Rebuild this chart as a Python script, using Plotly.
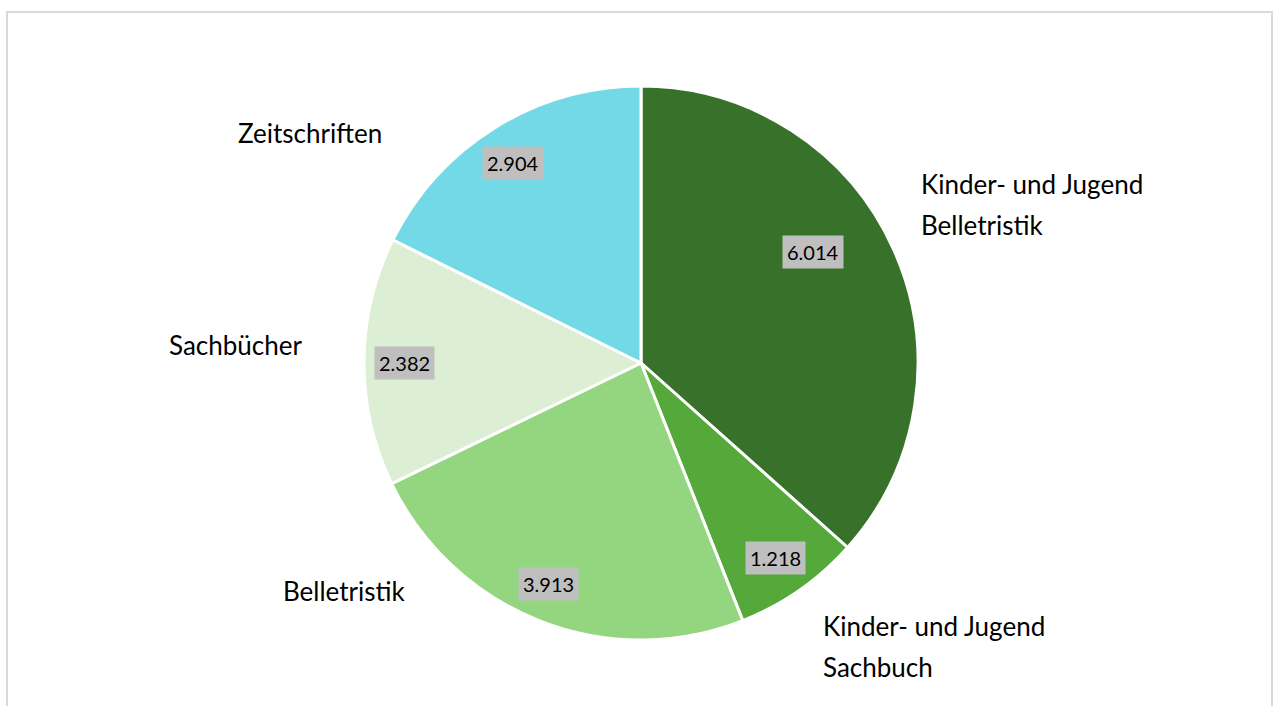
import math
import textwrap
import plotly.graph_objects as go

# ---- data ----
categories = ["Kinder- und Jugend Belletristik", "Kinder- und Jugend Sachbuch",
              "Belletristik", "Sachbücher", "Zeitschriften"]
values = [6.014, 1.218, 3.913, 2.382, 2.904]
value_labels = ["6.014", "1.218", "3.913", "2.382", "2.904"]

# ---- styles / layout ----
colors = ["#38722A", "#55A83A", "#94D57F", "#DCEFD5", "#74D9E6"]
W, H = 1276, 706
ml, mr, mt, mb = 6, 0, 86, 66
pw, ph = W - ml - mr, H - mt - mb
R = min(pw, ph) / 2
cx, cy = ml + pw / 2, mt + ph / 2

# label placement tweaks (angle shift in degrees, radius factor)
val_shift = [-8.6, 0.3, 1.4, -0.3, -0.8]
val_rad = [0.74, 0.856, 0.866, 0.852, 0.857]
lab_shift = [-5.6, 2.4, 24.2, 2.8, -16.4]
lab_rad = [1.155, 1.212, 1.177, 1.218, 1.245]
FONT = "Lato"


def to_paper(px, py):
    return (px - ml) / pw, 1 - (py - mt) / ph


total = sum(values)
mids = []
cum = 0
for v in values:
    mids.append((cum + v / 2) / total * 360)
    cum += v

fig = go.Figure(go.Pie(
    labels=categories, values=values, sort=False, direction="clockwise",
    rotation=0, textinfo="none", hoverinfo="label+value",
    marker=dict(colors=colors, line=dict(color="white", width=3)),
    showlegend=False,
))

annotations = []
for i, cat in enumerate(categories):
    # value label inside slice
    a = math.radians(mids[i] + val_shift[i])
    r = val_rad[i] * R
    x, y = to_paper(cx + r * math.sin(a), cy - r * math.cos(a))
    annotations.append(dict(
        x=x, y=y, xref="paper", yref="paper", text=value_labels[i],
        showarrow=False, xanchor="center", yanchor="middle",
        font=dict(family=FONT, size=20, color="#000000"),
        bgcolor="#BFBFBF", borderpad=4,
    ))
    # category label outside
    a = math.radians(mids[i] + lab_shift[i])
    r = lab_rad[i] * R
    px = cx + r * math.sin(a)
    py = cy - r * math.cos(a)
    x, y = to_paper(px, py)
    lines = textwrap.wrap(cat, 18, break_on_hyphens=False)
    n = len(lines)
    spacing = 41
    for j, ln in enumerate(lines):
        annotations.append(dict(
            x=x, y=y, xref="paper", yref="paper", text=ln,
            showarrow=False, xanchor="left" if px > cx else "right",
            yanchor="middle", yshift=((n - 1) / 2 - j) * spacing,
            font=dict(family=FONT, size=26, color="#000000"),
        ))

bx0, by0 = to_paper(7, 12)
bx1, by1 = to_paper(1272, 720)
fig.update_layout(
    width=W, height=H,
    margin=dict(l=ml, r=mr, t=mt, b=mb),
    paper_bgcolor="white", plot_bgcolor="white",
    annotations=annotations,
    shapes=[dict(type="rect", xref="paper", yref="paper",
                 x0=bx0, y0=by1, x1=bx1, y1=by0,
                 line=dict(color="#D9D9D9", width=2))],
)

fig.write_html(
    "out.html",
    config={"displayModeBar": False},
    post_script="document.body.style.margin='0';document.body.style.overflow='hidden';",
)
